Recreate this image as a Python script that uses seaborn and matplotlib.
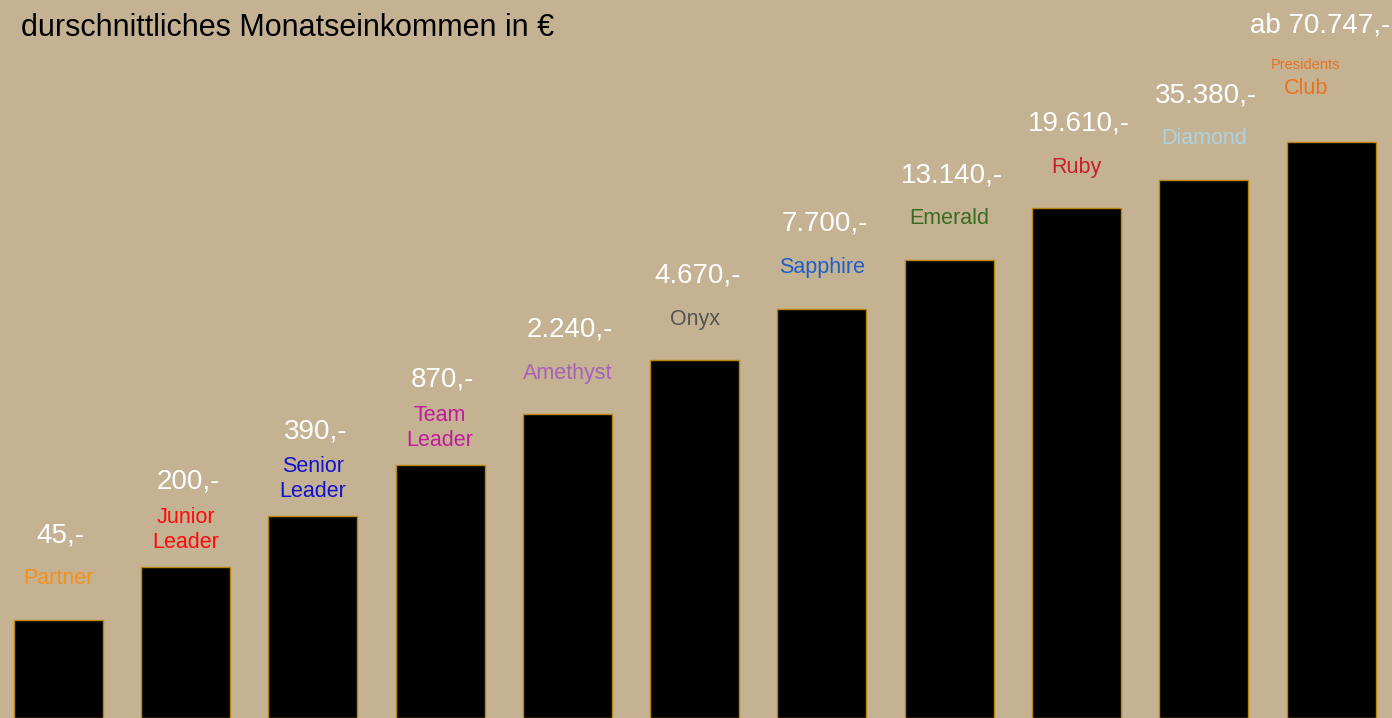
import matplotlib
matplotlib.use("Agg")
import matplotlib.pyplot as plt
import seaborn as sns
import pandas as pd

# ---- data ----
levels = ["Partner", "Junior\nLeader", "Senior\nLeader", "Team\nLeader", "Amethyst", "Onyx",
          "Sapphire", "Emerald", "Ruby", "Diamond", "Presidents Club"]
income_labels = ["45,-", "200,-", "390,-", "870,-", "2.240,-", "4.670,-", "7.700,-",
                 "13.140,-", "19.610,-", "35.380,-", "ab 70.747,-"]
# displayed bar heights (step chart, not proportional to income)
bar_heights = [98, 151, 202, 253, 304, 358, 409, 458, 510, 538, 576]
level_colors = ["#F5901A", "#FF0A0A", "#1212CC", "#C21C9C", "#A862B8", "#555555",
                "#1F5FC8", "#3A6B1E", "#C8202C", "#ADD3E3", "#E8731E"]

BG = "#C4B293"
df = pd.DataFrame({"level": levels, "height": bar_heights})

sns.set_theme(style="white")
plt.rcParams["font.family"] = ["Liberation Sans", "DejaVu Sans"]

fig = plt.figure(figsize=(13.92, 7.18), dpi=100, facecolor=BG)
ax = fig.add_axes([0, 0, 1, 1])
ax.set_facecolor(BG)

sns.barplot(data=df, x="level", y="height", color="black", width=0.699,
            edgecolor="#B8860B", linewidth=1.0, ax=ax, saturation=1)

ax.set_xlim(-0.457, 10.478)
ax.set_ylim(0, 718)
ax.axis("off")

for i, (lvl, val, h, c) in enumerate(zip(levels, income_labels, bar_heights, level_colors)):
    if lvl == "Presidents Club":
        ax.text(i - 0.2, h + 77, "Presidents", color=c, fontsize=10.5, ha="center", va="center")
        ax.text(i - 0.2, h + 54, "Club", color=c, fontsize=15.5, ha="center", va="center")
        ax.text(i - 0.09, h + 116, val, color="white", fontsize=20, ha="center", va="center")
    else:
        two = "\n" in lvl
        ax.text(i, h + (37 if two else 41), lvl, color=c, fontsize=15.5, ha="center",
                va="center", linespacing=1.2)
        ax.text(i + 0.02, h + 85, val, color="white", fontsize=20,
                ha="center", va="center")

fig.text(21 / 1392, 1 - 28 / 718, "durschnittliches Monatseinkommen in €", fontsize=22,
         color="black", ha="left", va="center")

fig.savefig("out.png", dpi=100, facecolor=BG)
